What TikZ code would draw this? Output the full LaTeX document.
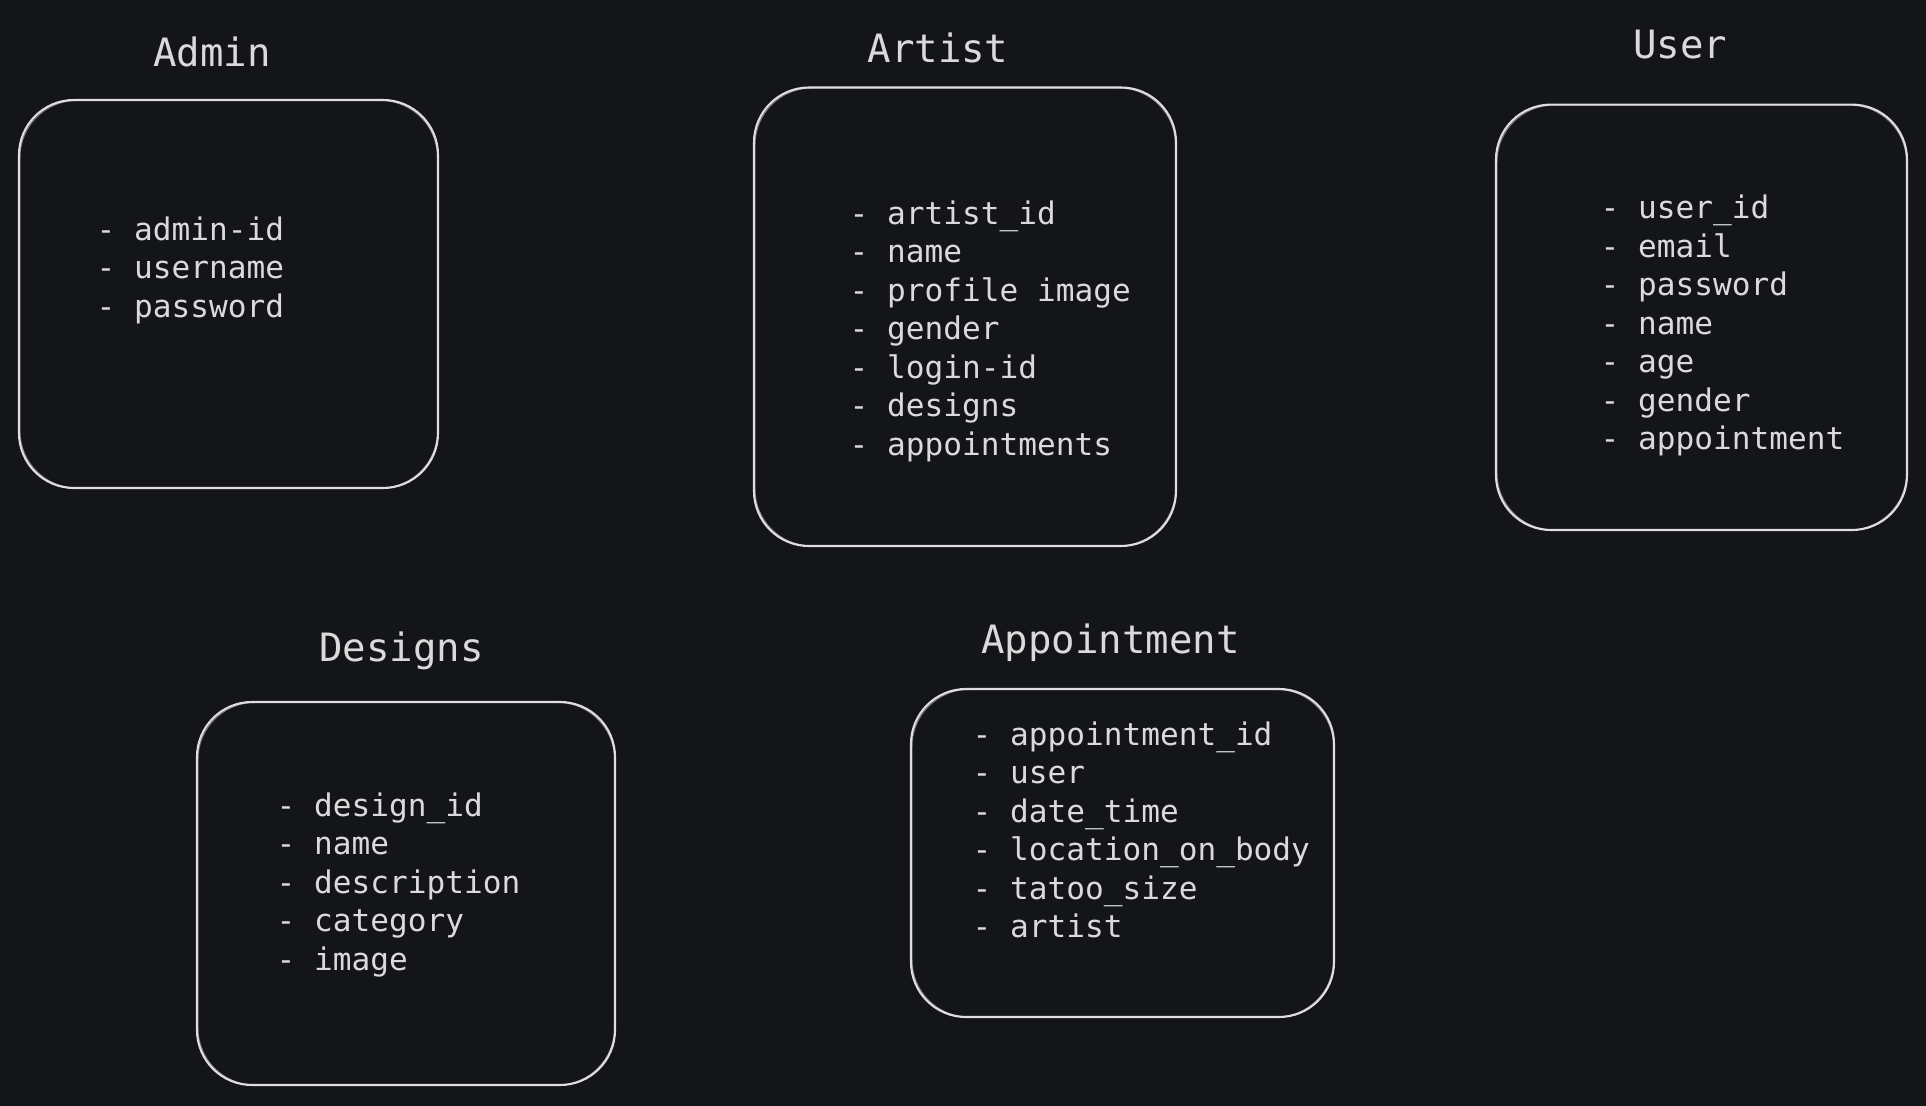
\documentclass[tikz,border=0pt]{standalone}
\usepackage{fontspec}
\newfontfamily\monofont{DejaVu Sans Mono}
\usetikzlibrary{calc}
\definecolor{bg}{RGB}{19,21,25}
\definecolor{ink}{RGB}{218,218,218}
\definecolor{edge}{RGB}{222,222,222}
\newcommand\entbox[5]{\node[entitybox, minimum width=#4*0.01cm, minimum height=#5*0.01cm] (#1) at (#2,#3) {};
  \draw[sketch] ($(#1.north west)+(2,1.5)$) rectangle ($(#1.south east)+(-1.5,-1)$);}
\newcommand\itemlist[4]{\foreach \itm [count=\i] in {#4} {\node[item] (#1-\i) at ({#2-3},{#3+(\i-1)*38.5}) {- \itm};}}
\begin{document}
\begin{tikzpicture}[x=0.01cm,y=-0.01cm,
  entitybox/.style={draw=edge, line width=0.6pt, rounded corners=0.55cm, inner sep=0pt},
  sketch/.style={draw=edge, line width=0.3pt, rounded corners=0.57cm, opacity=0.5},
  title/.style={text=ink, font=\monofont\fontsize{11.1}{13}\selectfont, inner sep=0pt, anchor=base},
  item/.style={text=ink, font=\monofont\fontsize{8.85}{11}\selectfont, inner sep=0pt, anchor=base west}]
\fill[bg] (0,0) rectangle (1926,1106);
\useasboundingbox (0,0) rectangle (1926,1106);

% Admin
\node[title] (tadmin) at (212,67) {Admin};
\entbox{admin}{228.5}{294}{419}{388}
\itemlist{adm}{99}{240}{admin-id,username,password}

% Artist
\node[title] (tartist) at (938,62.5) {Artist};
\entbox{artist}{965}{316.75}{422}{458.5}
\itemlist{art}{852}{224}{artist\_id,name,profile image,gender,login-id,designs,appointments}

% User
\node[title] (tuser) at (1680,58) {User};
\entbox{user}{1701.5}{317.3}{411}{425.4}
\itemlist{usr}{1603}{218.6}{user\_id,email,password,name,age,gender,appointment}

% Designs
\node[title] (tdesigns) at (401.7,661.7) {Designs};
\entbox{designs}{406}{893.5}{418}{383}
\itemlist{des}{279}{816}{design\_id,name,description,category,image}

% Appointment
\node[title] (tappt) at (1110.5,653) {Appointment};
\entbox{appt}{1122.5}{853}{423}{328}
\itemlist{apt}{975}{745}{appointment\_id,user,date\_time,location\_on\_body,tatoo\_size,artist}
\end{tikzpicture}
\end{document}
